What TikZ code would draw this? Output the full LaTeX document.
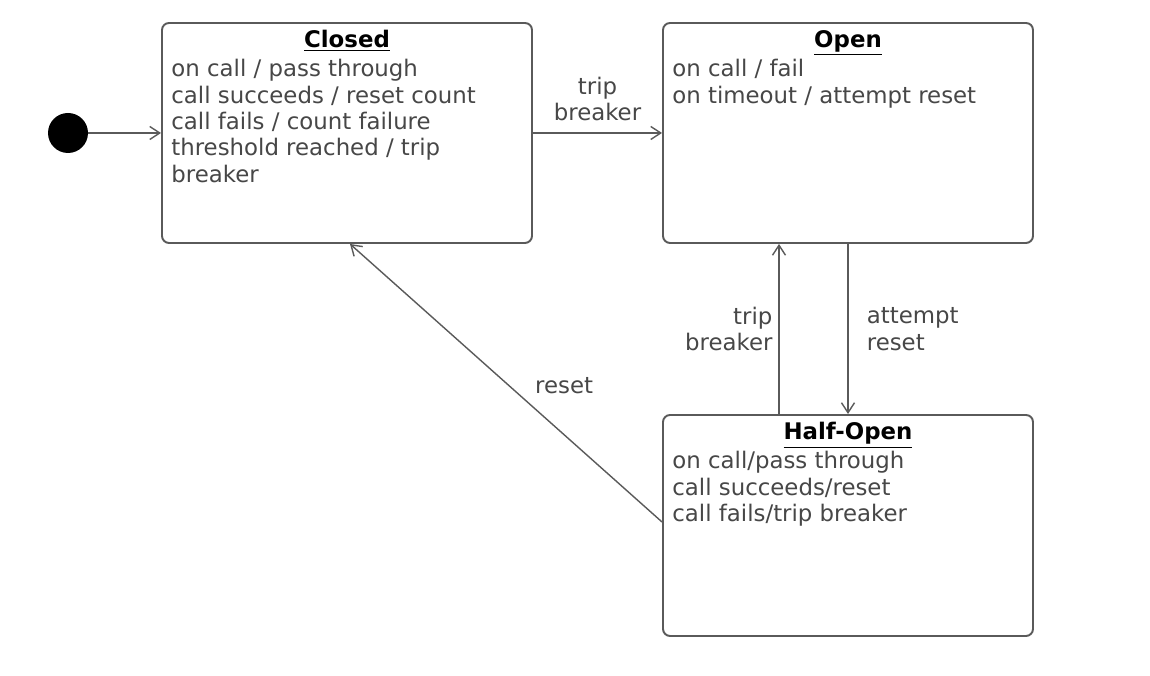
\documentclass[tikz,border=0pt]{standalone}
\usepackage{fontspec}
\setmainfont{DejaVu Sans}
\usetikzlibrary{positioning}
\usetikzlibrary{arrows.meta}
\definecolor{edgegray}{HTML}{5A5A5A}
\definecolor{textgray}{HTML}{474747}
\tikzset{>={Straight Barb[length=2mm, width=2.6mm]}}
\tikzset{
  statebox/.style={draw=edgegray, line width=1.1pt, rounded corners=4pt, minimum width=7.4cm, minimum height=4.4cm, fill=white},
  statetitle/.style={font=\fontsize{13}{15}\selectfont\bfseries, text=black, inner sep=0pt},
  statebody/.style={font=\fontsize{13}{15}\selectfont, text=textgray, align=left, inner sep=0pt},
  trans/.style={->, draw=edgegray, line width=0.8pt},
  translabel/.style={font=\fontsize{13}{15}\selectfont, text=textgray},
}

\begin{document}
\begin{tikzpicture}
    \useasboundingbox (0,0) rectangle (23,13.52);
    \node[circle, fill=black, minimum size=0.8cm, inner sep=0pt] (init) at (1.36,10.86) {};
    \node[statebox] (closed) at (6.94,10.86) {};
    \node[statebox] (open) at (16.96,10.86) {};
    \node[statebox, minimum height=4.42cm] (halfopen) at (16.96,3.01) {};

    \node[statetitle, below=0.16cm of closed.north] (closedtitle) {\underline{Closed}};
    \node[statebody, below right=0.74cm and 0.2cm of closed.north west] (closedbody)
        {on call / pass through\\call succeeds / reset count\\call fails / count failure\\threshold reached / trip\\breaker};
    \node[statetitle, below=0.16cm of open.north] (opentitle) {\underline{Open}};
    \node[statebody, below right=0.74cm and 0.2cm of open.north west] (openbody)
        {on call / fail\\on timeout / attempt reset};
    \node[statetitle, below=0.16cm of halfopen.north] (halfopentitle) {\underline{Half-Open}};
    \node[statebody, below right=0.74cm and 0.2cm of halfopen.north west] (halfopenbody)
        {on call/pass through\\call succeeds/reset\\call fails/trip breaker};

    \draw[trans] (init) -- (closed);
    \draw[trans] (closed) -- node[translabel, above=3pt, align=center] {trip\\breaker} (open);
    \draw[trans] ([xshift=-1.38cm]halfopen.north) -- node[translabel, left, align=right] {trip\\breaker} ([xshift=-1.38cm]open.south);
    \draw[trans] (open) -- node[translabel, right=7pt, align=left] {attempt\\reset} (halfopen);
    \draw[trans] ([yshift=0.07cm]halfopen.west) -- node[translabel, pos=0.45, above right, xshift=0.14cm, yshift=-0.08cm] {reset} ([xshift=0.06cm]closed.south);
\end{tikzpicture}
\end{document}
